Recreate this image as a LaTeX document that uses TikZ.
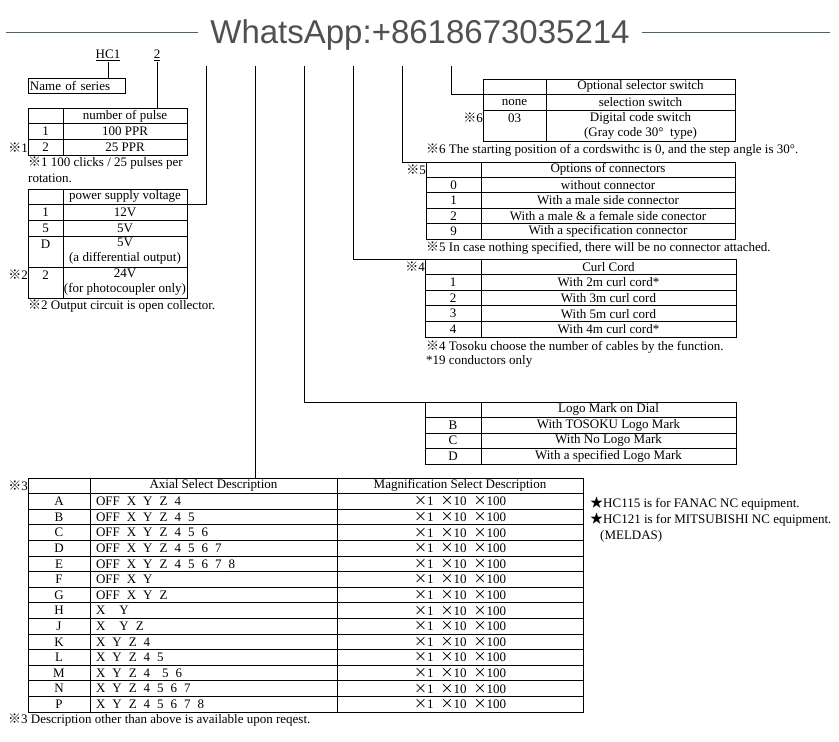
\documentclass[tikz,border=0pt]{standalone}
\usepackage{fontspec}
\setmainfont{Liberation Serif}
\newfontfamily\cjk{Noto Sans CJK JP}
\newfontfamily\wafont{Liberation Sans}
\usepackage{xcolor}
\usetikzlibrary{positioning,calc}
\newcommand{\kome}{{\cjk ※}}
\newcommand{\kuro}{{\cjk ★}}
\newcommand{\by}{{\cjk ×}}
\newcommand{\mags}{\by1\hspace{7pt}\by10\hspace{7pt}\by100}
\definecolor{rulegray}{RGB}{70,100,105}
\definecolor{wagray}{RGB}{80,80,80}
\tikzset{
  cell/.style={draw, line width=0.8pt, inner sep=0pt, outer sep=0pt,
               anchor=north west, align=center},
  note/.style={anchor=west, inner sep=0pt},
  lead/.style={line width=0.8pt},
}

\begin{document}
\begin{tikzpicture}[x=1pt, y=-1pt, font=\fontsize{13}{15}\selectfont]
\useasboundingbox (0,0) rectangle (839,742);

% header
\node[anchor=base, inner sep=0pt, text=wagray,
      font=\wafont\fontsize{33}{35}\selectfont] (wa) at (420,43) {WhatsApp:+8618673035214};
\draw[rulegray, line width=1pt] (6,32) -- ([xshift=-12pt]wa.west |- 0,32);
\draw[rulegray, line width=1pt] ([xshift=12pt]wa.east |- 0,32) -- (830,32);

% series code
\node[inner sep=1pt] (hc) at (108,55) {\underline{HC1}};
\node[inner sep=1pt] (pn) at (157,55) {\underline{2}};
\node[cell, minimum width=97pt, minimum height=15pt, text width=93pt,
      align=left] (name) at (28,78) {Name of series};
\draw[lead] (hc.south) -- (hc.south |- name.north);

% number of pulse
\foreach \k/\t [count=\i from 0] in {{}/number of pulse, 1/100 PPR, 2/25 PPR}{
  \node[cell, minimum width=35pt, minimum height=15.7pt] (pul-\i-a) at (28,{108+15.7*\i}) {\k};
  \node[cell, minimum width=124pt, minimum height=15.7pt] (pul-\i-b) at (63,{108+15.7*\i}) {\t};
}
\draw[lead] (pn.south) -- (pn.south |- pul-0-b.north);
\node[note, anchor=east] (m1) at (pul-2-a.west) {\kome1};
\node[note] (n1a) at (28,163) {\kome1 100 clicks / 25 pulses per};
\node[note] (n1b) at (28,178) {rotation.};

% power supply voltage
\foreach \y/\h/\k/\t [count=\i from 0] in {189/15/{}/power supply voltage, 204/16/1/12V,
    220/16/5/5V, 236/31/{D\\\mbox{}}/{5V\\(a differential output)},
    267/31/{2\\\mbox{}}/{24V\\(for photocoupler only)}}{
  \node[cell, minimum width=35pt, minimum height=\h pt] (pw-\i-a) at (28,\y) {\k};
  \node[cell, minimum width=124pt, minimum height=\h pt] (pw-\i-b) at (63,\y) {\t};
}
\node[note, anchor=east] (m2) at ([yshift=-8pt]pw-4-a.north west) {\kome2};
\node[note] (n2) at (28,306) {\kome2 Output circuit is open collector.};

% optional selector switch
\foreach \y/\h/\k/\t [count=\i from 0] in {79/15/{}/Optional selector switch,
    94/16/none/selection switch,
    110/31/{03\\\mbox{}}/{Digital code switch\\(Gray code 30°\ \ type)}}{
  \node[cell, minimum width=63pt, minimum height=\h pt] (opt-\i-a) at (483,\y) {\k};
  \node[cell, minimum width=189pt, minimum height=\h pt] (opt-\i-b) at (546,\y) {\t};
}
\node[note, anchor=east] (m6) at ([yshift=-8pt]opt-2-a.north west) {\kome6};
\node[note] (n6) at (426,150) {\kome6 The starting position of a cordswithc is 0, and the step angle is 30°.};

% options of connectors
\foreach \k/\t [count=\i from 0] in {{}/Options of connectors, 0/without connector,
    1/With a male side connector, 2/With a male \& a female side conector,
    9/With a specification connector}{
  \node[cell, minimum width=55pt, minimum height=15.4pt] (con-\i-a) at (426,{162+15.4*\i}) {\k};
  \node[cell, minimum width=254pt, minimum height=15.4pt] (con-\i-b) at (481,{162+15.4*\i}) {\t};
}
\node[note, anchor=east] (m5) at (con-0-a.west) {\kome5};
\node[note] (n5) at (426,248) {\kome5 In case nothing specified, there will be no connector attached.};

% curl cord
\foreach \k/\t [count=\i from 0] in {{}/Curl Cord, 1/With 2m curl cord*, 2/With 3m curl cord,
    3/With 5m curl cord, 4/With 4m curl cord*}{
  \node[cell, minimum width=56pt, minimum height=15.6pt] (curl-\i-a) at (425,{259+15.6*\i}) {\k};
  \node[cell, minimum width=255pt, minimum height=15.6pt] (curl-\i-b) at (481,{259+15.6*\i}) {\t};
}
\node[note, anchor=east] (m4) at (curl-0-a.west) {\kome4};
\node[note] (n4a) at (426,347) {\kome4 Tosoku choose the number of cables by the function.};
\node[note] (n4b) at (426,361) {*19 conductors only};

% logo mark
\foreach \k/\t [count=\i from 0] in {{}/Logo Mark on Dial, B/With TOSOKU Logo Mark,
    C/With No Logo Mark, D/With a specified Logo Mark}{
  \node[cell, minimum width=56pt, minimum height=15.5pt] (logo-\i-a) at (425,{402+15.5*\i}) {\k};
  \node[cell, minimum width=255pt, minimum height=15.5pt] (logo-\i-b) at (481,{402+15.5*\i}) {\t};
}

% axial / magnification select
\node[cell, minimum width=62pt, minimum height=15.6pt] (ax-0-a) at (28,478) {};
\node[cell, minimum width=247pt, minimum height=15.6pt] (ax-0-b) at (90,478) {Axial Select Description};
\node[cell, minimum width=246pt, minimum height=15.6pt] (ax-0-c) at (337,478) {Magnification Select Description};
\foreach \k/\t [count=\i from 1] in {A/OFF X Y Z 4, B/OFF X Y Z 4 5, C/OFF X Y Z 4 5 6,
    D/OFF X Y Z 4 5 6 7, E/OFF X Y Z 4 5 6 7 8, F/OFF X Y, G/OFF X Y Z,
    H/X\hspace{14pt}Y, J/X\hspace{14pt}Y Z, K/X Y Z 4, L/X Y Z 4 5,
    M/X Y Z 4\hspace{12pt}5 6, N/X Y Z 4 5 6 7, P/X Y Z 4 5 6 7 8}{
  \node[cell, minimum width=62pt, minimum height=15.6pt] (ax-\i-a) at (28,{478+15.6*\i}) {\k};
  \node[cell, minimum width=247pt, minimum height=15.6pt, text width=235pt, inner xsep=6pt,
        align=left] (ax-\i-b) at (90,{478+15.6*\i}) {\spaceskip=7pt \t};
  \node[cell, minimum width=246pt, minimum height=15.6pt] (ax-\i-c) at (337,{478+15.6*\i}) {\mags};
}
\node[note, anchor=east] (m3) at (ax-0-a.west) {\kome3};
\node[note] (n3) at (8,720) {\kome3 Description other than above is available upon reqest.};

% equipment notes
\node[note] (eq1) at (590,504) {\kuro HC115 is for FANAC NC equipment.};
\node[note] (eq2) at (590,520) {\kuro HC121 is for MITSUBISHI NC equipment.};
\node[note] (eq3) at (600,536) {(MELDAS)};

% code position leads
\coordinate (tA) at (206,66);
\coordinate (tB) at (255,66);
\coordinate (tC) at (304,66);
\coordinate (tD) at (353,66);
\coordinate (tE) at (402,66);
\coordinate (tF) at (451,66);
\draw[lead] (tA) |- (pw-0-b.south east);
\draw[lead] (tB) -- (tB |- ax-0-b.north);
\draw[lead] (tC) |- (logo-0-a.north west);
\draw[lead] (tD) |- (curl-0-a.north west);
\draw[lead] (tE) |- (con-0-a.north west);
\draw[lead] (tF) |- (opt-0-a.south west);
\end{tikzpicture}
\end{document}
